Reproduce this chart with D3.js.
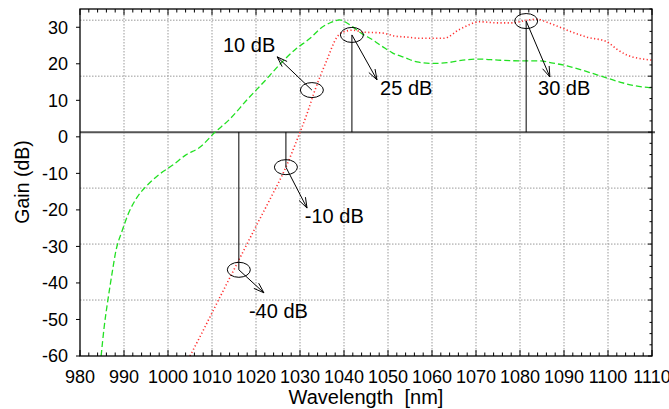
<!DOCTYPE html>
<html>
<head>
<meta charset="utf-8">
<title>Gain vs wavelength</title>
<style>
  body { margin: 0; background: #fff; }
  svg { font-family: "Liberation Sans", Arial, sans-serif; }
</style>
<script src="https://d3js.org/d3.v7.min.js"></script>
</head>
<body>
<svg id="chart" width="669" height="409"></svg>
<script>
// --- data ---
var greenWl   = [984.8, 985.5, 986.3, 987.2, 988.2, 989.5, 991, 993, 995.5, 998, 1001, 1004, 1007.3, 1010.7, 1014, 1018, 1022, 1025.7, 1029, 1032.3, 1035, 1037, 1039, 1040.5, 1042, 1044, 1046.6, 1049, 1051, 1054, 1056.6, 1060, 1063.4, 1067, 1070.9, 1075, 1080, 1084.5, 1087.5, 1090.7, 1094, 1098.2, 1102.7, 1106, 1110];
var greenGain = [-60, -52, -45, -38, -31, -26, -21, -16.5, -13, -10.3, -7.8, -5, -2.8, 1.3, 4.8, 10.2, 15.3, 20.2, 24, 27, 30, 31.3, 32, 31.3, 30.1, 28.3, 26.5, 24.5, 23, 21.6, 20.5, 20.1, 20.3, 21, 21.3, 21, 20.8, 20.8, 20.2, 19.4, 18.3, 16.7, 15, 14, 13.4];

var redWl   = [1005, 1008, 1011, 1014, 1017, 1020, 1023, 1026.8, 1029.3, 1031.5, 1033.4, 1036.1, 1038.4, 1039.8, 1042, 1044.3, 1048.9, 1051.5, 1054.3, 1057, 1059.5, 1062.7, 1066.4, 1070.9, 1075, 1078.4, 1081, 1083.9, 1086.5, 1089.1, 1092, 1095.2, 1099.8, 1102, 1104.3, 1107, 1110];
var redGain = [-60, -53, -45.8, -38.7, -31.6, -24.5, -17.5, -8.3, -0.9, 6, 12.8, 21, 27.3, 28.7, 29.2, 28.7, 28.4, 27.6, 27.3, 27, 27, 27, 29.5, 31.5, 31.2, 31.2, 31.8, 32.2, 31.2, 30, 28.6, 27.3, 26, 24, 22.4, 21.5, 21];

var xTicks = d3.range(980, 1111, 10);
var yTicks = d3.range(-60, 31, 10);

// annotations: circled point, arrow tip, label position (all in data units)
var noteLabels = ["10 dB", "25 dB", "30 dB", "-10 dB", "-40 dB"];
var noteWl     = [1032.7, 1041.8, 1081.4, 1026.8, 1016.1];
var noteGain   = [12.8, 27.9, 31.7, -8.3, -36.4];
var tipWl      = [1024.8, 1047.5, 1086.8, 1031.6, 1021.8];
var tipGain    = [21.9, 15.6, 16.4, -19.5, -42.7];
var textWl     = [1012.5, 1048.2, 1084.1, 1031.1, 1018.4];
var textGain   = [23.2, 11.5, 11.5, -23.6, -49.6];
var hasDrop    = [false, true, true, true, true];

var W = 669, H = 409;
var margin = {top: 9, right: 17, bottom: 53, left: 80};
var iw = W - margin.left - margin.right, ih = H - margin.top - margin.bottom;

var svg = d3.select("#chart");
var g = svg.append("g").attr("transform", "translate(" + margin.left + "," + margin.top + ")");

var x = d3.scaleLinear().domain([980, 1110]).range([0, iw]);
var y = d3.scaleLinear().domain([-60, 35]).range([ih, 0]);
// right-hand axis (no labels) that carries the horizontal grid
var y2 = d3.scaleLinear().domain([-40, 22]).range([ih, 0]);

// grid
g.append("g").selectAll("line").data(xTicks.slice(1, -1)).enter().append("line")
  .attr("x1", d => x(d)).attr("x2", d => x(d)).attr("y1", 0).attr("y2", ih)
  .attr("stroke", "#999").attr("stroke-width", 1).attr("stroke-dasharray", "1.5,1.5");
g.append("g").selectAll("line").data([-30, -20, -10, 10, 20]).enter().append("line")
  .attr("x1", 0).attr("x2", iw).attr("y1", d => y2(d)).attr("y2", d => y2(d))
  .attr("stroke", "#999").attr("stroke-width", 1).attr("stroke-dasharray", "1.5,1.5");

// thick reference line
g.append("line").attr("x1", 0).attr("x2", iw + 3).attr("y1", y2(0)).attr("y2", y2(0))
  .attr("stroke", "#555").attr("stroke-width", 2);

// curves
var line = d3.line().x(d => x(d[0])).y(d => y(d[1])).curve(d3.curveMonotoneX);
g.append("path").datum(d3.zip(greenWl, greenGain)).attr("d", line)
  .attr("fill", "none").attr("stroke", "#22e022").attr("stroke-width", 1.3).attr("stroke-dasharray", "6,3");
g.append("path").datum(d3.zip(redWl, redGain)).attr("d", line)
  .attr("fill", "none").attr("stroke", "#ff3030").attr("stroke-width", 1.6).attr("stroke-dasharray", "1.2,2.4");

// annotations
var notes = noteLabels.map((t, i) => ({t: t, cx: x(noteWl[i]), cy: y(noteGain[i]),
  tx: x(tipWl[i]), ty: y(tipGain[i]), lx: x(textWl[i]), ly: y(textGain[i]), drop: hasDrop[i]}));
var an = g.append("g").attr("stroke", "#000").attr("fill", "none").attr("stroke-width", 1);
notes.forEach(function(n) {
  if (n.drop) an.append("line").attr("x1", n.cx).attr("x2", n.cx).attr("y1", y2(0)).attr("y2", n.cy);
  an.append("ellipse").attr("cx", n.cx).attr("cy", n.cy).attr("rx", 11.5).attr("ry", 7.5);
  an.append("line").attr("x1", n.cx).attr("y1", n.cy).attr("x2", n.tx).attr("y2", n.ty);
  var a = Math.atan2(n.ty - n.cy, n.tx - n.cx), L = 11, s = 0.33;
  an.append("polyline").attr("points", [
    [n.tx - L * Math.cos(a - s), n.ty - L * Math.sin(a - s)],
    [n.tx, n.ty],
    [n.tx - L * Math.cos(a + s), n.ty - L * Math.sin(a + s)]].map(p => p.join(",")).join(" "));
  g.append("text").attr("x", n.lx).attr("y", n.ly).attr("font-size", 20).attr("fill", "#000").text(n.t);
});

// frame
g.append("rect").attr("width", iw).attr("height", ih).attr("fill", "none").attr("stroke", "#000").attr("stroke-width", 1.3);

// bottom & top ticks (inward), minor every 2 nm
var xMinor = d3.range(980, 1111, 2);
var tk = g.append("g").attr("stroke", "#000").attr("stroke-width", 1);
xMinor.forEach(function(v) {
  var len = (v % 10 === 0) ? 6 : 3.5;
  tk.append("line").attr("x1", x(v)).attr("x2", x(v)).attr("y1", ih).attr("y2", ih - len);
  tk.append("line").attr("x1", x(v)).attr("x2", x(v)).attr("y1", 0).attr("y2", len);
});
// right ticks (inward)
d3.range(-40, 23, 2).forEach(function(v) {
  var len = (v % 10 === 0) ? 4 : 2.5;
  tk.append("line").attr("x1", iw).attr("x2", iw - len).attr("y1", y2(v)).attr("y2", y2(v));
});
// left ticks (outward)
yTicks.forEach(function(v) {
  tk.append("line").attr("x1", 0).attr("x2", -4).attr("y1", y(v)).attr("y2", y(v));
});

// tick labels
g.append("g").selectAll("text").data(yTicks).enter().append("text")
  .attr("x", -12).attr("y", d => y(d)).attr("dy", "0.36em").attr("text-anchor", "end")
  .attr("font-size", 18).text(d => d);
g.append("g").selectAll("text").data(xTicks).enter().append("text")
  .attr("x", d => x(d)).attr("y", ih + 27).attr("text-anchor", "middle")
  .attr("font-size", 18).text(d => d);

// axis titles
svg.append("text").attr("transform", "translate(29,182) rotate(-90)")
  .attr("text-anchor", "middle").attr("font-size", 19.5).text("Gain (dB)");
svg.append("text").attr("x", 366).attr("y", 404)
  .attr("text-anchor", "middle").attr("font-size", 20).attr("xml:space", "preserve").text("Wavelength  [nm]");
</script>
</body>
</html>
